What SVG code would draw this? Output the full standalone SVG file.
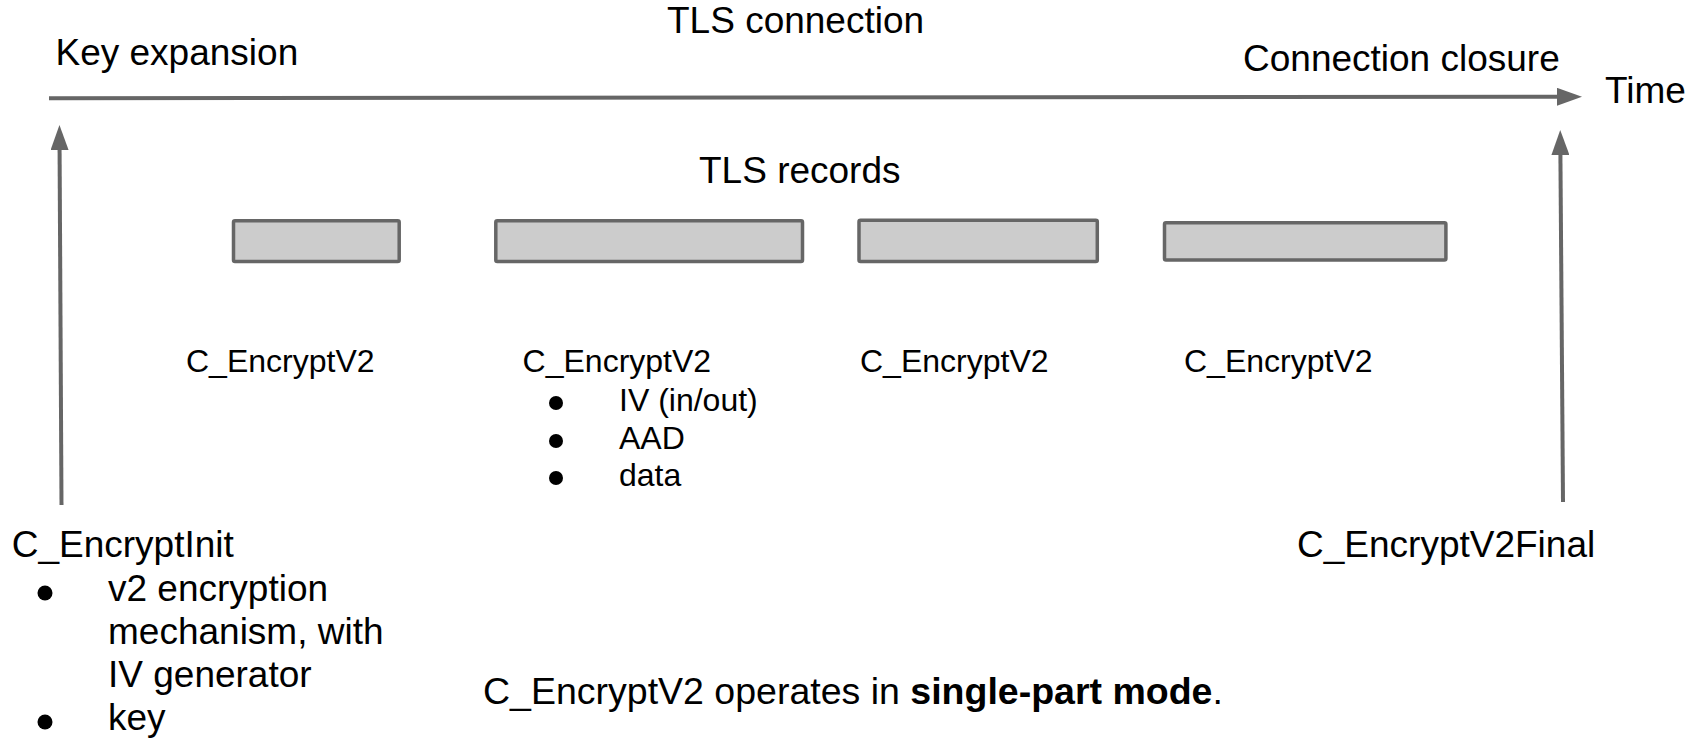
<svg xmlns="http://www.w3.org/2000/svg" width="1700" height="738" viewBox="0 0 1700 738">
<style>
  text { font-family: "Liberation Sans", Arial, sans-serif; fill: #000; }
  .big { font-size: 37px; }
  .small { font-size: 32px; }
  .note { font-size: 37.5px; }
  .rec { fill: #cccccc; stroke: #666666; stroke-width: 3.5; }
  .conn { stroke: #666666; stroke-width: 4; fill: none; }
  .dot { fill: #000; }
</style>
<defs>
  <marker id="arrow" viewBox="0 0 25 18" refX="15" refY="9" markerWidth="25" markerHeight="18" markerUnits="userSpaceOnUse" orient="auto">
    <path d="M0,0 L25,9 L0,18 Z" fill="#666666"/>
  </marker>
</defs>
<rect width="1700" height="738" fill="#ffffff"/>

<g id="connectors">
  <line class="conn" x1="49" y1="98.3" x2="1572" y2="96.8" marker-end="url(#arrow)"/>
  <line class="conn" x1="61.5" y1="505" x2="59.5" y2="135" marker-end="url(#arrow)"/>
  <line class="conn" x1="1563" y1="502" x2="1560.3" y2="140" marker-end="url(#arrow)"/>
</g>

<g id="title"><text class="big" x="667" y="33">TLS connection</text></g>
<g id="key-expansion"><text class="big" x="55.5" y="65">Key expansion</text></g>
<g id="connection-closure"><text class="big" x="1243" y="71">Connection closure</text></g>
<g id="time"><text class="big" x="1605" y="103">Time</text></g>
<g id="tls-records-label"><text class="big" x="699" y="183">TLS records</text></g>

<g id="record1"><rect class="rec" x="233.5" y="220.8" width="165.7" height="40.8" rx="1.5"/></g>
<g id="record2"><rect class="rec" x="495.8" y="220.8" width="306.7" height="40.8" rx="1.5"/></g>
<g id="record3"><rect class="rec" x="859" y="220.2" width="238.3" height="41.4" rx="1.5"/></g>
<g id="record4"><rect class="rec" x="1164.5" y="222.8" width="281.4" height="37.2" rx="1.5"/></g>

<g id="encrypt1"><text class="small" x="186" y="372">C_EncryptV2</text></g>
<g id="encrypt2">
  <text class="small" x="522.6" y="372">C_EncryptV2</text>
  <circle class="dot" cx="556" cy="403" r="7"/>
  <text class="small" x="619" y="411">IV (in/out)</text>
  <circle class="dot" cx="556" cy="441" r="7"/>
  <text class="small" x="619" y="449">AAD</text>
  <circle class="dot" cx="556" cy="478" r="7"/>
  <text class="small" x="619" y="486">data</text>
</g>
<g id="encrypt3"><text class="small" x="860" y="372">C_EncryptV2</text></g>
<g id="encrypt4"><text class="small" x="1184" y="372">C_EncryptV2</text></g>

<g id="encrypt-init">
  <text class="big" x="11.7" y="557">C_EncryptInit</text>
  <circle class="dot" cx="45" cy="593" r="7.5"/>
  <text class="big" x="108" y="601">v2 encryption</text>
  <text class="big" x="108" y="644">mechanism, with</text>
  <text class="big" x="108" y="687">IV generator</text>
  <circle class="dot" cx="45" cy="722" r="7.5"/>
  <text class="big" x="108" y="730">key</text>
</g>

<g id="encrypt-final"><text class="big" x="1297" y="557">C_EncryptV2Final</text></g>

<g id="note"><text class="note" x="483" y="704">C_EncryptV2 operates in <tspan font-weight="bold">single-part mode</tspan>.</text></g>
</svg>
